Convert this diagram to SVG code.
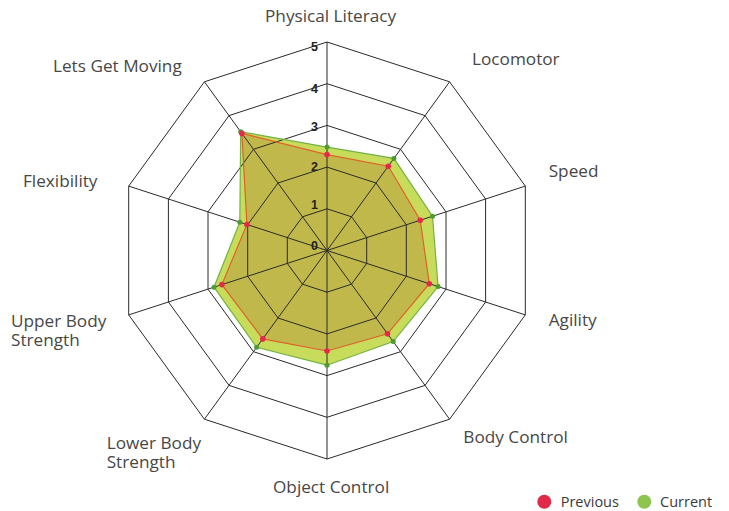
<svg xmlns="http://www.w3.org/2000/svg" width="729" height="511" viewBox="0 0 729 511">
<style>
.grid{fill:none;stroke:#2a2a2a;stroke-width:1}
.lbl{font-family:"Open Sans","Noto Sans",sans-serif;font-size:17.2px;fill:#474747}
.tick{font-family:"Liberation Sans",Arial,sans-serif;font-size:12.5px;font-weight:bold;fill:#222;text-anchor:end}
.leg{font-family:"Open Sans","Noto Sans",sans-serif;font-size:14.5px;fill:#3a3a3a}
.pdot{fill:#e5294b}
.cdot{fill:#4f9a32}
</style>
<rect width="729" height="511" fill="#fff"/>
<g id="series-fills">
<polygon points="327,147.1 393.9,158.4 432.5,216.2 438.1,286.6 393.2,341.6 327,365.2 256.6,347.3 214,287.2 239.8,222.2 240.7,131.7" fill="#c8dc5b"/>
<polygon points="327,154.6 388.3,166.2 420.2,220.2 429.3,283.7 387.5,333.8 327,351 262.8,338.9 221.9,284.6 246.9,224.5 241.9,133.4" fill="#c1b84b"/>
</g>
<g id="grid">
<polygon class="grid" points="327,208.8 351.5,216.8 366.7,237.6 366.7,263.4 351.5,284.2 327,292.2 302.5,284.2 287.3,263.4 287.3,237.6 302.5,216.8"/>
<polygon class="grid" points="327,167.1 376,183 406.3,224.7 406.3,276.3 376,318 327,333.9 278,318 247.7,276.3 247.7,224.7 278,183"/>
<polygon class="grid" points="327,125.4 400.5,149.3 446,211.8 446,289.2 400.5,351.7 327,375.6 253.5,351.7 208,289.2 208,211.8 253.5,149.3"/>
<polygon class="grid" points="327,83.7 425,115.6 485.6,199 485.6,302 425,385.4 327,417.3 229,385.4 168.4,302 168.4,199 229,115.6"/>
<polygon class="grid" points="327,42 449.6,81.8 525.3,186.1 525.3,314.9 449.6,419.2 327,459 204.4,419.2 128.7,314.9 128.7,186.1 204.4,81.8"/>
<path class="grid" d="M327,250.5L327,42M327,250.5L449.6,81.8M327,250.5L525.3,186.1M327,250.5L525.3,314.9M327,250.5L449.6,419.2M327,250.5L327,459M327,250.5L204.4,419.2M327,250.5L128.7,314.9M327,250.5L128.7,186.1M327,250.5L204.4,81.8"/>
</g>
<g id="series-current">
<polygon points="327,147.1 393.9,158.4 432.5,216.2 438.1,286.6 393.2,341.6 327,365.2 256.6,347.3 214,287.2 239.8,222.2 240.7,131.7" fill="none" stroke="#74b244" stroke-width="1.2"/>
<g class="cdot">
<circle cx="327" cy="147.1" r="2.5"/><circle cx="393.9" cy="158.4" r="2.5"/><circle cx="432.5" cy="216.2" r="2.5"/><circle cx="438.1" cy="286.6" r="2.5"/><circle cx="393.2" cy="341.6" r="2.5"/><circle cx="327" cy="365.2" r="2.5"/><circle cx="256.6" cy="347.3" r="2.5"/><circle cx="214" cy="287.2" r="2.5"/><circle cx="239.8" cy="222.2" r="2.5"/><circle cx="240.7" cy="131.7" r="2.5"/>
</g>
</g>
<g id="series-previous">
<polygon points="327,154.6 388.3,166.2 420.2,220.2 429.3,283.7 387.5,333.8 327,351 262.8,338.9 221.9,284.6 246.9,224.5 241.9,133.4" fill="none" stroke="#e0602c" stroke-width="1.2"/>
<g class="pdot">
<circle cx="327" cy="154.6" r="2.8"/><circle cx="388.3" cy="166.2" r="2.8"/><circle cx="420.2" cy="220.2" r="2.8"/><circle cx="429.3" cy="283.7" r="2.8"/><circle cx="387.5" cy="333.8" r="2.8"/><circle cx="327" cy="351" r="2.8"/><circle cx="262.8" cy="338.9" r="2.8"/><circle cx="221.9" cy="284.6" r="2.8"/><circle cx="246.9" cy="224.5" r="2.8"/><circle cx="241.9" cy="133.4" r="2.8"/>
</g>
</g>
<g id="ticks">
<text class="tick" x="318" y="50.7">5</text>
<text class="tick" x="318" y="92.7">4</text>
<text class="tick" x="318" y="131">3</text>
<text class="tick" x="318" y="171">2</text>
<text class="tick" x="318" y="209.2">1</text>
<text class="tick" x="318" y="250.2">0</text>
</g>
<g id="labels">
<text class="lbl" x="265" y="21.7">Physical Literacy</text>
<text class="lbl" x="472" y="64.5">Locomotor</text>
<text class="lbl" x="548.7" y="176.5">Speed</text>
<text class="lbl" x="548.7" y="326">Agility</text>
<text class="lbl" x="463.3" y="443.3">Body Control</text>
<text class="lbl" x="273" y="493">Object Control</text>
<text class="lbl" x="106.7" y="449">Lower Body<tspan x="106.7" dy="18.8">Strength</tspan></text>
<text class="lbl" x="11" y="327.3">Upper Body<tspan x="11" dy="18.8">Strength</tspan></text>
<text class="lbl" x="23" y="187">Flexibility</text>
<text class="lbl" x="53" y="72">Lets Get Moving</text>
</g>
<g id="legend">
<circle cx="544.3" cy="501.7" r="7" fill="#e02a48"/>
<text class="leg" x="560.7" y="506.7">Previous</text>
<circle cx="644.3" cy="501.7" r="7" fill="#8cc44e"/>
<text class="leg" x="660" y="506.7">Current</text>
</g>
</svg>
